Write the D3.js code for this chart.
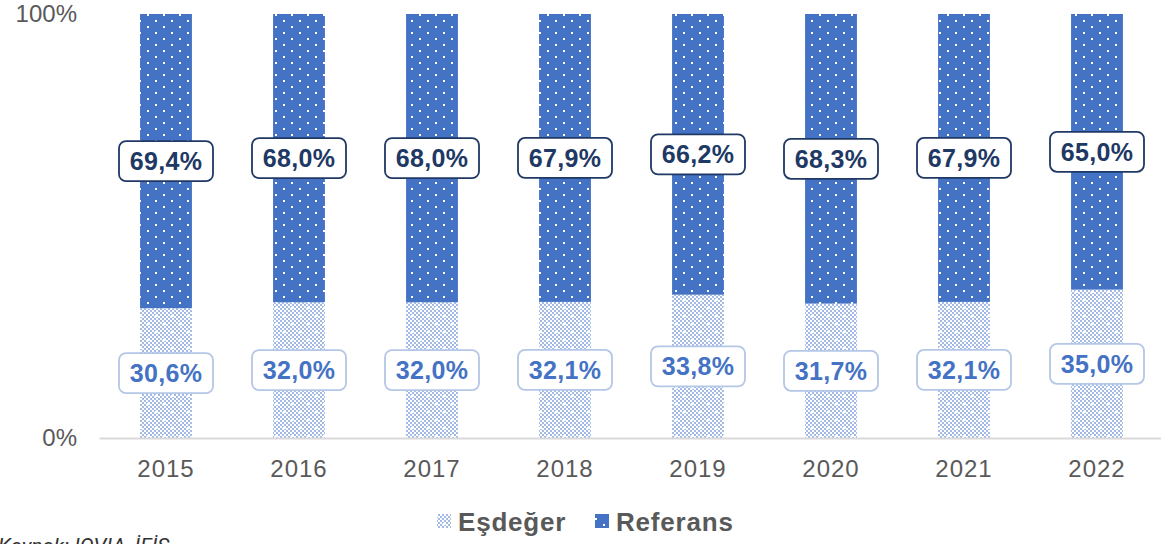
<!DOCTYPE html>
<html><head><meta charset="utf-8">
<script src="https://cdn.jsdelivr.net/npm/d3@7"></script>
<style>body{margin:0;background:#fff;} svg{display:block;font-family:"Liberation Sans",Arial,sans-serif;}</style>
</head><body>
<svg id="c" width="1161" height="544"></svg>
<script>
const categories = ["2015","2016","2017","2018","2019","2020","2021","2022"];
const esdeger = [30.6,32.0,32.0,32.1,33.8,31.7,32.1,35.0];
const referans = [69.4,68.0,68.0,67.9,66.2,68.3,67.9,65.0];
const seriesNames = ["Eşdeğer","Referans"];
const yTicks = [0,100];

const svg = d3.select("#c");
const defs = svg.append("defs");
// Referans pattern: blue with white dots
const pr = defs.append("pattern").attr("id","pRef").attr("patternUnits","userSpaceOnUse")
  .attr("width",16).attr("height",12);
pr.append("rect").attr("width",16).attr("height",12).attr("fill","#4472C4");
[[3,2],[11,8]].forEach(([x,y])=>pr.append("rect").attr("x",x).attr("y",y).attr("width",2).attr("height",2).attr("fill","#fff"));
// Esdeger pattern: light checker with white dots
const pe = defs.append("pattern").attr("id","pEs").attr("patternUnits","userSpaceOnUse")
  .attr("width",16).attr("height",16);
pe.append("rect").attr("width",16).attr("height",16).attr("fill","#fff");
for(let i=0;i<8;i++)for(let j=0;j<8;j++){ if((i+j)%2===0) pe.append("rect").attr("x",i*2).attr("y",j*2).attr("width",2).attr("height",2).attr("fill","#A3BAE6");}
pe.append("rect").attr("x",3).attr("y",3).attr("width",3).attr("height",2).attr("fill","#fff");
pe.append("rect").attr("x",11).attr("y",11).attr("width",3).attr("height",2).attr("fill","#fff");

const x = d3.scaleBand().domain(categories).range([99.5,1163.5]).paddingInner(0.61).paddingOuter(0.305);
const y = d3.scaleLinear().domain([0,100]).range([438,14]);

const g = svg.append("g");
categories.forEach((c,i)=>{
  const e = esdeger[i], r = referans[i];
  g.append("rect").attr("x",x(c)).attr("width",x.bandwidth()).attr("y",y(e)).attr("height",y(0)-y(e)).attr("fill","url(#pEs)");
  g.append("rect").attr("x",x(c)).attr("width",x.bandwidth()).attr("y",y(100)).attr("height",y(e)-y(100)).attr("fill","url(#pRef)");
});

// axis line
svg.append("line").attr("x1",99.5).attr("x2",1161).attr("y1",y(0)+0.5).attr("y2",y(0)+0.5).attr("stroke","#D9D9D9").attr("stroke-width",2);

// y ticks
yTicks.forEach(t=>{
  svg.append("text").attr("x",77).attr("y",y(t)).attr("dy","0.35em").attr("text-anchor","end")
    .attr("font-size",24).attr("fill","#595959").text(t+"%");
});
// x labels
categories.forEach(c=>{
  svg.append("text").attr("x",x(c)+x.bandwidth()/2).attr("y",469).attr("dy","0.35em").attr("text-anchor","middle")
    .attr("font-size",24).attr("letter-spacing",1).attr("fill","#595959").text(c);
});

const fmt = v => v.toFixed(1).replace(".",",")+"%";
function label(cx, cy, txt, stroke, color){
  const w=94,h=40;
  svg.append("rect").attr("x",cx-w/2).attr("y",cy-h/2).attr("width",w).attr("height",h).attr("rx",7)
    .attr("fill","#fff").attr("stroke",stroke).attr("stroke-width",1.8);
  svg.append("text").attr("x",cx).attr("y",cy).attr("dy","0.36em").attr("text-anchor","middle")
    .attr("font-size",25).attr("letter-spacing",0.3).attr("font-weight","bold").attr("fill",color).text(txt);
}
categories.forEach((c,i)=>{
  const cx = x(c)+x.bandwidth()/2;
  label(cx, y(esdeger[i]/2), fmt(esdeger[i]), "#B4C7E7", "#4472C4");
  label(cx, y(esdeger[i]+referans[i]/2), fmt(referans[i]), "#203864", "#203864");
});

// legend
const leg = svg.append("g");
const legItems = [{n:seriesNames[0],f:"url(#pEs)",x:437},{n:seriesNames[1],f:"url(#pRef)",x:595}];
legItems.forEach(d=>{
  leg.append("rect").attr("x",d.x).attr("y",514).attr("width",14).attr("height",14).attr("fill",d.f);
  leg.append("text").attr("x",d.x+21).attr("y",522).attr("dy","0.36em").attr("font-size",26).attr("letter-spacing",0.8).attr("font-weight","bold")
    .attr("fill","#595959").text(d.n);
});

svg.append("text").attr("x",-2).attr("y",553).attr("font-size",21).attr("font-style","italic").attr("fill","#333")
  .attr("font-family","Roboto, sans-serif").text("Kaynak: IQVIA, İEİS");
</script>
</body></html>
